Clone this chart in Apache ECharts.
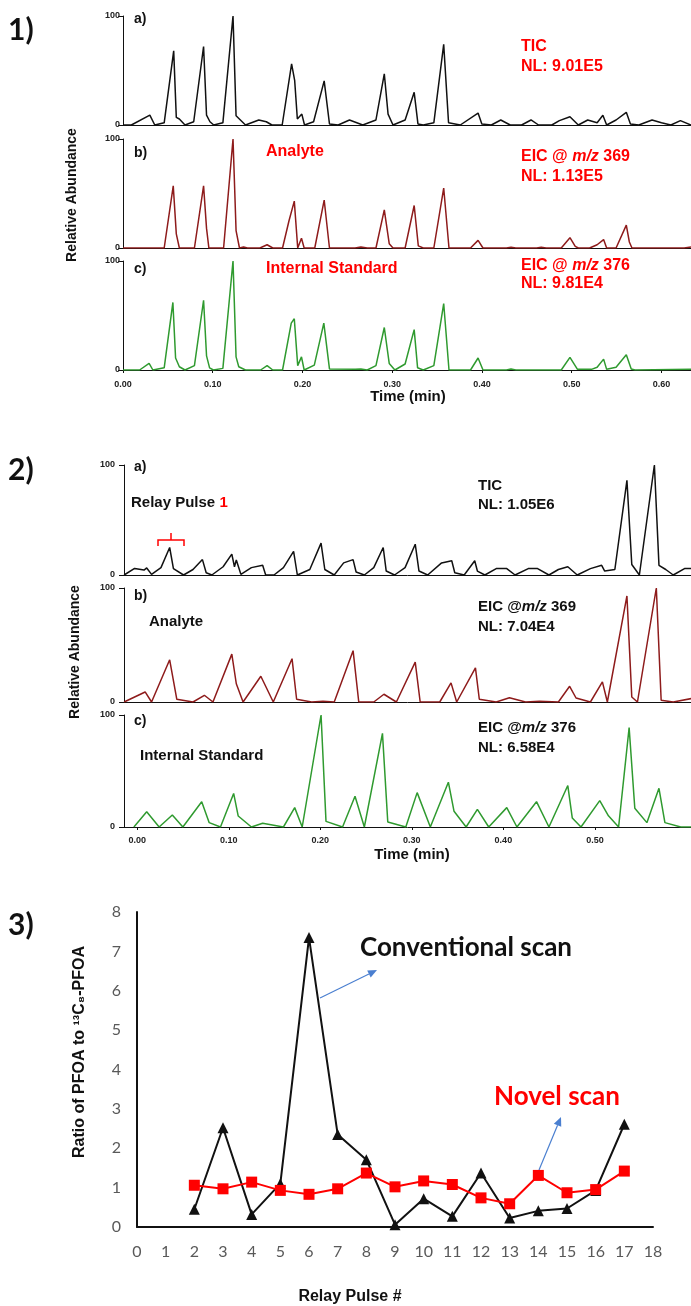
<!DOCTYPE html>
<html>
<head>
<meta charset="utf-8">
<script src="https://cdn.jsdelivr.net/npm/echarts@6/dist/echarts.min.js"></script>
<style>
  html, body { margin: 0; padding: 0; background: #fff; }
  #main { width: 691px; height: 1306px; }
</style>
</head>
<body>
<div id="main"></div>
<script>
// 1) conventional scan chromatograms, [time (min), relative abundance]
var tic1 = [[0,0],[0.0093,0],[0.0299,9],[0.0354,0],[0.0459,2],[0.0565,68],[0.0594,7],[0.0628,5.5],[0.0691,0],[0.0788,3],[0.0898,72],[0.0931,9],[0.0969,3],[0.1011,0],[0.1113,2],[0.1226,100],[0.1260,8.5],[0.1365,0],[0.1513,4.6],[0.1597,3],[0.1660,0],[0.1774,0],[0.1879,56],[0.1913,41],[0.1943,5.5],[0.1993,10],[0.2023,0],[0.2124,3],[0.2242,40.5],[0.2301,1],[0.2398,0],[0.2524,4.6],[0.2672,0],[0.2819,4.6],[0.2912,47],[0.2954,10],[0.3009,0],[0.3144,4.6],[0.3245,30],[0.3287,1],[0.3346,0],[0.3464,2],[0.3574,74],[0.3628,2],[0.3759,0],[0.3957,11],[0.3999,1],[0.4105,0],[0.4210,4.6],[0.4315,0],[0.4442,0],[0.4547,4.6],[0.4631,0],[0.4779,0],[0.4863,4],[0.4981,7.6],[0.5074,0],[0.5179,4.6],[0.5284,2],[0.5348,9],[0.5390,0],[0.5495,4.6],[0.5609,11.6],[0.5655,1],[0.5748,0],[0.5896,4.6],[0.6001,2],[0.6106,0],[0.6212,4],[0.6330,0]];
var eic369a = [[0,0],[0.0459,0],[0.0560,57],[0.0594,13],[0.0628,0],[0.0796,0],[0.0898,57],[0.0931,18],[0.0957,0],[0.1121,0],[0.1226,100],[0.1260,16],[0.1298,0],[0.1344,1],[0.1386,0],[0.1526,0],[0.1606,3],[0.1669,0],[0.1778,0],[0.1850,25],[0.1909,43],[0.1947,0],[0.1989,9],[0.2019,0],[0.2137,0],[0.2242,44],[0.2301,0],[0.2587,0],[0.2651,1],[0.2722,0],[0.2819,0],[0.2912,35],[0.2967,4],[0.3009,0],[0.3144,0],[0.3245,39],[0.3291,2],[0.3346,0],[0.3464,0],[0.3574,55],[0.3633,0],[0.3873,0],[0.3957,7],[0.4012,0],[0.4273,0],[0.4324,0.7],[0.4378,0],[0.4610,0],[0.4661,0.7],[0.4716,0],[0.4884,0],[0.4981,9.5],[0.5040,1.5],[0.5074,0],[0.5200,0],[0.5284,3],[0.5356,7.7],[0.5390,0],[0.5495,0],[0.5609,21],[0.5643,5.5],[0.5672,0],[0.6254,0],[0.6330,1]];
var eic376a = [[0,0],[0.0185,0],[0.0291,6],[0.0333,0],[0.0459,2],[0.0556,62],[0.0586,11],[0.0628,3],[0.0691,0],[0.0796,4],[0.0898,64],[0.0931,13],[0.0965,2],[0.1007,0],[0.1113,1.5],[0.1226,100],[0.1260,12],[0.1290,3],[0.1365,0],[0.1534,0],[0.1606,4],[0.1669,0],[0.1778,0],[0.1875,43],[0.1909,47],[0.1947,4],[0.1989,12],[0.2019,0],[0.2132,4.5],[0.2238,43],[0.2301,1],[0.2587,0.6],[0.2651,1],[0.2722,0],[0.2819,4],[0.2912,39],[0.2967,6],[0.3030,0],[0.3144,5.5],[0.3245,37],[0.3283,2],[0.3346,0],[0.3464,4],[0.3574,61],[0.3633,0],[0.3873,0],[0.3957,11],[0.4012,0],[0.4273,0],[0.4324,1],[0.4378,0],[0.4884,0],[0.4981,11.6],[0.5065,0.6],[0.5221,0.6],[0.5284,2.5],[0.5356,10],[0.5390,0.6],[0.5495,2.5],[0.5609,14],[0.5664,1],[0.5706,0],[0.6330,0.6]];

// 2) novel scan chromatograms
var tic2 = [[-0.0144,0],[-0.0029,6],[0.0074,4.5],[0.0103,6.4],[0.0156,0.6],[0.0259,6.7],[0.0354,25],[0.0395,5.8],[0.0506,0],[0.0609,5],[0.0712,14],[0.0753,2],[0.0815,0],[0.0938,7.5],[0.1033,19],[0.1062,7.5],[0.1082,13.6],[0.1132,0.6],[0.1247,6.7],[0.1370,8.8],[0.1403,0],[0.1494,0],[0.1597,6.7],[0.1708,21.5],[0.1749,0],[0.1885,5],[0.2008,29],[0.2049,5],[0.2152,0],[0.2255,11],[0.2358,14],[0.2391,2.7],[0.2481,0],[0.2584,6.7],[0.2687,25],[0.2720,3.6],[0.2811,0],[0.2926,6.7],[0.3037,28],[0.3078,3.6],[0.3173,0],[0.3325,11],[0.3436,13],[0.3469,2],[0.3572,0],[0.3687,13],[0.3716,3.6],[0.3798,0],[0.3922,5.8],[0.4037,5.8],[0.4128,0],[0.4272,5.8],[0.4374,5.8],[0.4498,0],[0.4601,5],[0.4704,7.5],[0.4807,0],[0.4951,5.8],[0.5074,8.8],[0.5107,3.6],[0.5218,5],[0.5350,86],[0.5403,9.6],[0.5486,0],[0.5650,100],[0.5700,8.8],[0.5774,5],[0.5856,0],[0.5979,5.8],[0.6053,5.8]];
var eic369b = [[-0.0144,0],[0.0086,8.8],[0.0156,0],[0.0354,37],[0.0432,2.4],[0.0609,0],[0.0733,5.9],[0.0827,0],[0.1033,42],[0.1082,16],[0.1156,0],[0.1350,22.6],[0.1486,0],[0.1691,38],[0.1741,2.4],[0.1905,0],[0.2029,0.6],[0.2152,0],[0.2358,45],[0.2420,0],[0.2584,0],[0.2695,6.8],[0.2831,0],[0.3037,35],[0.3091,0],[0.3305,0],[0.3428,16.8],[0.3490,0],[0.3695,30],[0.3737,2.4],[0.3922,0],[0.4066,3.8],[0.4243,0],[0.4395,0.6],[0.4601,0],[0.4724,13.8],[0.4794,3.5],[0.4951,0],[0.5082,17.6],[0.5136,0],[0.5350,93],[0.5403,4.4],[0.5465,0],[0.5671,100],[0.5724,1.5],[0.5856,0],[0.6053,3]];
var eic376b = [[-0.0037,0],[0.0103,13.7],[0.0239,0],[0.0383,10.7],[0.0498,0],[0.0704,22.6],[0.0786,3.9],[0.0909,0],[0.1053,30],[0.1103,9.8],[0.1247,0],[0.1370,3.3],[0.1597,0],[0.1720,17.3],[0.1802,0],[0.2008,100],[0.2062,5],[0.2243,0],[0.2379,27.4],[0.2481,0],[0.2679,83.6],[0.2737,4.5],[0.2934,0],[0.3058,30.7],[0.3202,0],[0.3399,40],[0.3461,14],[0.3593,0],[0.3716,15.8],[0.3840,0],[0.4037,17.3],[0.4148,0],[0.4362,22.6],[0.4498,0],[0.4704,37],[0.4753,8],[0.4848,0],[0.5053,23.5],[0.5148,10],[0.5259,0],[0.5374,88.7],[0.5436,16.7],[0.5568,3.9],[0.5700,34.5],[0.5765,3.9],[0.5938,0],[0.6053,0]];

// time tick labels
var timeTicks1 = [0, 0.1, 0.2, 0.3, 0.4, 0.5, 0.6];
var timeTicks2 = [0, 0.1, 0.2, 0.3, 0.4, 0.5];

// 3) ratio per relay pulse
var pulses = [2, 3, 4, 5, 6, 7, 8, 9, 10, 11, 12, 13, 14, 15, 16, 17];
var conventional = [0.45, 2.52, 0.32, 1.10, 7.35, 2.35, 1.71, 0.06, 0.72, 0.27, 1.37, 0.23, 0.41, 0.47, 0.93, 2.61];
var novel = [1.06, 0.97, 1.14, 0.93, 0.83, 0.97, 1.37, 1.02, 1.17, 1.08, 0.74, 0.59, 1.31, 0.87, 0.95, 1.42];

var ARIAL = "'Liberation Sans', Arial, sans-serif";
var CALI = "Lato, 'Open Sans', sans-serif";
var BLACK = '#111';
var DARKRED = '#8e1b1b';
var GREEN = '#2f9a2f';
var RED = '#ff0000';

var chart = echarts.init(document.getElementById('main'), null, { renderer: 'canvas' });

var grids = [
  { left: 123, top: 16, width: 568, height: 109 },
  { left: 123, top: 139, width: 568, height: 109 },
  { left: 123, top: 261, width: 568, height: 109 },
  { left: 124, top: 465, width: 567, height: 110 },
  { left: 124, top: 588, width: 567, height: 114 },
  { left: 124, top: 715, width: 567, height: 112 },
  { left: 137, top: 912, width: 516, height: 315 }
];

function timeAxis(idx, min, max, ticks, showLabels, margin) {
  return {
    type: 'value', gridIndex: idx, min: min, max: max,
    splitLine: { show: false },
    axisLine: { show: true, onZero: false, lineStyle: { color: BLACK, width: 1 } },
    axisTick: { show: showLabels, length: 3, customValues: ticks, lineStyle: { color: BLACK } },
    axisLabel: {
      show: showLabels, customValues: ticks, margin: margin,
      fontSize: 9, fontWeight: 'bold', fontFamily: ARIAL, color: '#222',
      formatter: function (v) { return v.toFixed(2); }
    }
  };
}

function abundAxis(idx, margin) {
  return {
    type: 'value', gridIndex: idx, min: 0, max: 100, interval: 100,
    splitLine: { show: false },
    axisLine: { show: true, onZero: false, lineStyle: { color: BLACK, width: 1 } },
    axisTick: { show: true, length: 5, lineStyle: { color: BLACK } },
    axisLabel: { margin: margin, fontSize: 9, fontWeight: 'bold', fontFamily: ARIAL, color: '#222' }
  };
}

function trace(idx, data, color) {
  return {
    type: 'line', xAxisIndex: idx, yAxisIndex: idx, data: data,
    symbol: 'none', lineStyle: { color: color, width: 1.5 }, animation: false, silent: true
  };
}

function text(x, y, str, size, color, opts) {
  opts = opts || {};
  return {
    type: 'text', x: x, y: y, rotation: opts.rotation || 0, silent: true,
    style: {
      text: str, x: 0, y: 0,
      font: (opts.weight || 'bold') + ' ' + size + 'px ' + (opts.family || ARIAL),
      fill: color,
      align: opts.align || 'left', textAlign: opts.align || 'left',
      verticalAlign: 'middle', textVerticalAlign: 'middle',
      rich: opts.rich
    }
  };
}

function richStyles(size, color, family) {
  return {
    n: { fontSize: size, fontWeight: 'bold', fontFamily: family || ARIAL, fill: color },
    i: { fontSize: size, fontWeight: 'bold', fontStyle: 'italic', fontFamily: family || ARIAL, fill: color },
    r: { fontSize: size, fontWeight: 'bold', fontFamily: family || ARIAL, fill: RED }
  };
}

// thin blue arrow with a filled head
function arrow(x1, y1, x2, y2) {
  var a = Math.atan2(y2 - y1, x2 - x1), L = 9, W = 4;
  var bx = x2 - L * Math.cos(a), by = y2 - L * Math.sin(a);
  return [
    { type: 'line', silent: true, shape: { x1: x1, y1: y1, x2: bx, y2: by }, style: { stroke: '#4a7fd0', lineWidth: 1.2 } },
    { type: 'polygon', silent: true, shape: { points: [[x2, y2], [bx + W * Math.sin(a), by - W * Math.cos(a)], [bx - W * Math.sin(a), by + W * Math.cos(a)]] }, style: { fill: '#4a7fd0' } }
  ];
}

var graphics = [
  text(8, 30, '1)', 30, BLACK, { family: CALI }),
  text(8, 470, '2)', 30, BLACK, { family: CALI }),
  text(8, 925, '3)', 30, BLACK, { family: CALI }),

  // panel 1
  text(72, 195, 'Relative Abundance', 14, BLACK, { rotation: Math.PI / 2, align: 'center' }),
  text(134, 19, 'a)', 14, BLACK),
  text(521, 47, 'TIC', 16, RED),
  text(521, 67, 'NL: 9.01E5', 16, RED),
  text(134, 153, 'b)', 14, BLACK),
  text(266, 152, 'Analyte', 16, RED),
  text(521, 157, '{n|EIC @ }{i|m/z}{n| 369}', 16, RED, { rich: richStyles(16, RED) }),
  text(521, 177, 'NL: 1.13E5', 16, RED),
  text(134, 269, 'c)', 14, BLACK),
  text(266, 269, 'Internal Standard', 16, RED),
  text(521, 266, '{n|EIC @ }{i|m/z}{n| 376}', 16, RED, { rich: richStyles(16, RED) }),
  text(521, 284, 'NL: 9.81E4', 16, RED),
  text(408, 397, 'Time (min)', 15, BLACK, { align: 'center' }),

  // panel 2
  text(75, 652, 'Relative Abundance', 14, BLACK, { rotation: Math.PI / 2, align: 'center' }),
  text(134, 467, 'a)', 14, BLACK),
  text(131, 503, '{n|Relay Pulse }{r|1}', 15, BLACK, { rich: richStyles(15, BLACK) }),
  { type: 'polyline', silent: true, shape: { points: [[158, 546], [158, 540], [184, 540], [184, 546]] }, style: { stroke: RED, lineWidth: 1.5, fill: null } },
  { type: 'line', silent: true, shape: { x1: 171, y1: 540, x2: 171, y2: 533 }, style: { stroke: RED, lineWidth: 1.5 } },
  text(478, 486, 'TIC', 15, BLACK),
  text(478, 505, 'NL: 1.05E6', 15, BLACK),
  text(134, 596, 'b)', 14, BLACK),
  text(149, 622, 'Analyte', 15, BLACK),
  text(478, 607, '{n|EIC @}{i|m/z}{n| 369}', 15, BLACK, { rich: richStyles(15, BLACK) }),
  text(478, 627, 'NL: 7.04E4', 15, BLACK),
  text(134, 721, 'c)', 14, BLACK),
  text(140, 756, 'Internal Standard', 15, BLACK),
  text(478, 728, '{n|EIC @}{i|m/z}{n| 376}', 15, BLACK, { rich: richStyles(15, BLACK) }),
  text(478, 748, 'NL: 6.58E4', 15, BLACK),
  text(412, 855, 'Time (min)', 15, BLACK, { align: 'center' }),

  // panel 3
  text(80, 1052, 'Ratio of PFOA to ¹³C₈-PFOA', 16, BLACK, { rotation: Math.PI / 2, align: 'center' }),
  text(350, 1297, 'Relay Pulse #', 16, BLACK, { align: 'center' }),
  text(360, 948, 'Conventional scan', 26, BLACK, { family: CALI }),
  text(494, 1097, 'Novel scan', 26, RED, { family: CALI })
].concat(arrow(320, 998, 377, 970)).concat(arrow(539, 1170, 561, 1117));

var option = {
  backgroundColor: '#fff',
  animation: false,
  grid: grids,
  xAxis: [
    timeAxis(0, 0, 0.633, timeTicks1, false, 10),
    timeAxis(1, 0, 0.633, timeTicks1, false, 10),
    timeAxis(2, 0, 0.633, timeTicks1, true, 10),
    timeAxis(3, -0.0145, 0.605, timeTicks2, false, 9),
    timeAxis(4, -0.0145, 0.605, timeTicks2, false, 9),
    timeAxis(5, -0.0145, 0.605, timeTicks2, true, 9),
    {
      type: 'value', gridIndex: 6, min: 0, max: 18, interval: 1,
      splitLine: { show: false }, axisTick: { show: false },
      axisLine: { lineStyle: { color: BLACK, width: 2 } },
      axisLabel: { margin: 17, fontSize: 16, fontFamily: CALI, color: '#595959' }
    }
  ],
  yAxis: [
    abundAxis(0, 3), abundAxis(1, 3), abundAxis(2, 3),
    abundAxis(3, 9), abundAxis(4, 9), abundAxis(5, 9),
    {
      type: 'value', gridIndex: 6, min: 0, max: 8, interval: 1,
      splitLine: { show: false }, axisTick: { show: false },
      axisLine: { show: true, lineStyle: { color: BLACK, width: 2 } },
      axisLabel: { margin: 16, fontSize: 16, fontFamily: CALI, color: '#595959' }
    }
  ],
  series: [
    trace(0, tic1, BLACK),
    trace(1, eic369a, DARKRED),
    trace(2, eic376a, GREEN),
    trace(3, tic2, BLACK),
    trace(4, eic369b, DARKRED),
    trace(5, eic376b, GREEN),
    {
      name: 'Conventional scan', type: 'line', xAxisIndex: 6, yAxisIndex: 6,
      data: pulses.map(function (p, i) { return [p, conventional[i]]; }),
      symbol: 'triangle', symbolSize: 11,
      lineStyle: { color: BLACK, width: 2 }, itemStyle: { color: BLACK }
    },
    {
      name: 'Novel scan', type: 'line', xAxisIndex: 6, yAxisIndex: 6,
      data: pulses.map(function (p, i) { return [p, novel[i]]; }),
      symbol: 'rect', symbolSize: 11,
      lineStyle: { color: RED, width: 2 }, itemStyle: { color: RED }
    }
  ],
  graphic: graphics
};

chart.setOption(option);
</script>
</body>
</html>
